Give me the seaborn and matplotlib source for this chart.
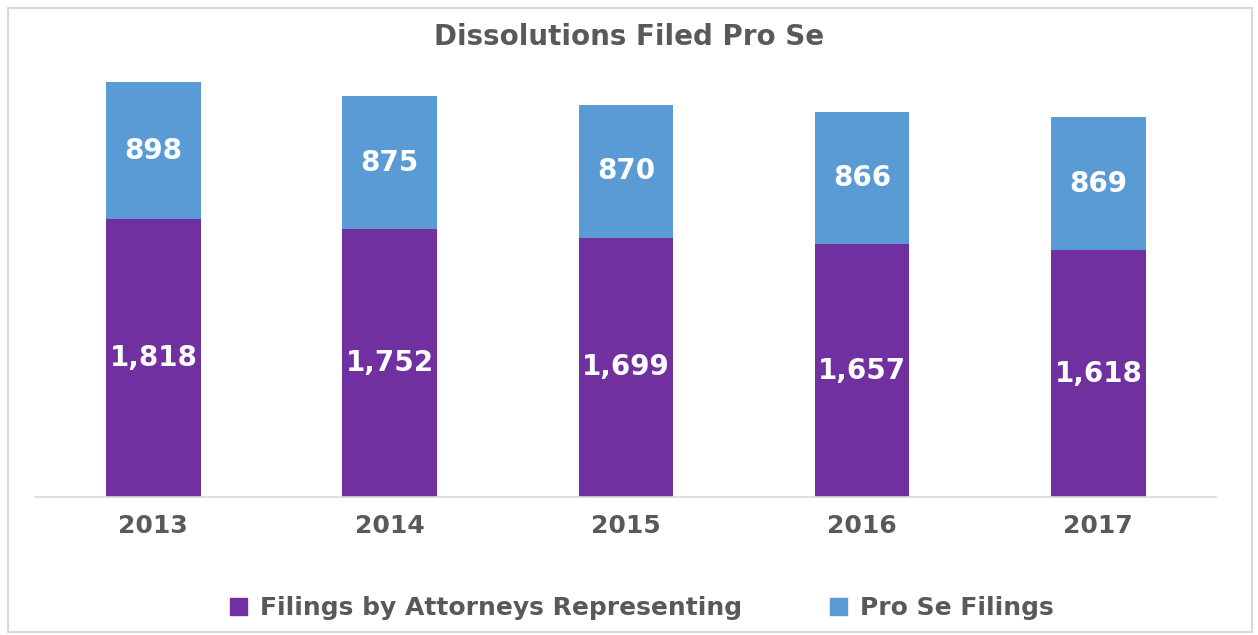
import numpy as np
import pandas as pd
import matplotlib
matplotlib.use("Agg")
import matplotlib.pyplot as plt
from matplotlib.patches import Patch, Rectangle
import seaborn as sns

# chart data
years = ["2013", "2014", "2015", "2016", "2017"]
attorney_filings = [1818, 1752, 1699, 1657, 1618]
pro_se_filings = [898, 875, 870, 866, 869]

purple = "#7030A0"
blue = "#5B9BD5"
gray_text = "#595959"

sns.set_theme(style="white")
plt.rcParams['font.family'] = ['DejaVu Sans']

df = pd.DataFrame({"year": years, "attorneys": attorney_filings, "pro_se": pro_se_filings})
df["total"] = df["attorneys"] + df["pro_se"]

fig = plt.figure(figsize=(12.58, 6.35), dpi=100)
ax = fig.add_axes([0.028, 0.217, 0.939, 0.698])

# stacked: total (blue) behind, attorneys (purple) in front
sns.barplot(data=df, x="year", y="total", color=blue, width=0.40, saturation=1,
            linewidth=0, ax=ax)
sns.barplot(data=df, x="year", y="attorneys", color=purple, width=0.40, saturation=1,
            linewidth=0, ax=ax)

for i, row in df.iterrows():
    ax.text(i, row["attorneys"] / 2, f"{row['attorneys']:,}", ha="center", va="center",
            color="white", fontsize=20, fontweight="bold")
    ax.text(i, row["attorneys"] + row["pro_se"] / 2, f"{row['pro_se']:,}", ha="center", va="center",
            color="white", fontsize=20, fontweight="bold")

ax.set_ylim(0, 2900)
ax.set_xlim(-0.5, 4.5)
ax.set_yticks([])
ax.set_xlabel("")
ax.set_ylabel("")
for side in ["top", "left", "right"]:
    ax.spines[side].set_visible(False)
ax.spines["bottom"].set_color("#d9d9d9")
ax.spines["bottom"].set_linewidth(1.2)
ax.tick_params(axis="x", length=0, pad=12, labelsize=18, labelcolor=gray_text)
for lbl in ax.get_xticklabels():
    lbl.set_fontweight("bold")

fig.text(0.5, 0.942, "Dissolutions Filed Pro Se", ha="center", va="center", fontsize=20,
         fontweight="bold", color=gray_text)

handles = [Patch(color=purple, label="Filings by Attorneys Representing"),
           Patch(color=blue, label="Pro Se Filings")]
fig.legend(handles=handles, loc="center", bbox_to_anchor=(0.51, 0.042), ncol=2, frameon=False,
           prop={"size": 18, "weight": "bold"}, labelcolor=gray_text, handlelength=0.7,
           handleheight=0.7, columnspacing=3.5, handletextpad=0.5)

fig.patches.append(Rectangle((0.006, 0.005), 0.989, 0.982, transform=fig.transFigure,
                             fill=False, edgecolor="#d9d9d9", linewidth=1.5))

fig.savefig("out.png", dpi=100)
